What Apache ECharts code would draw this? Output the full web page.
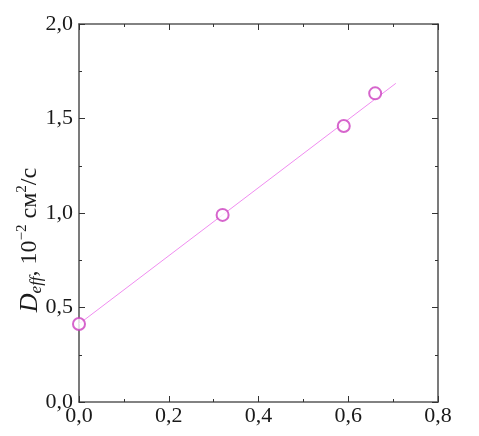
<!DOCTYPE html>
<html><head><meta charset="utf-8">
<script src="https://cdn.jsdelivr.net/npm/echarts@6/dist/echarts.min.js"></script>
<style>html,body{margin:0;padding:0;background:#fff}#c{width:479px;height:436px}</style>
</head><body><div id="c"></div>
<script>
const xValues = [0.0, 0.32, 0.59, 0.66];
const yValues = [0.413, 0.99, 1.46, 1.633];
const fitX = [0.0, 0.706];
const fitY = [0.413, 1.686];
const xTicks = [0, 0.2, 0.4, 0.6, 0.8];
const yTicks = [0, 0.5, 1.0, 1.5, 2.0];

const fmt = v => v.toFixed(1).replace('.', ',');
const axisCol = '#5a5a5a';
const FONT = 'Liberation Serif';
const chart = echarts.init(document.getElementById('c'));
const common = {
  axisLine: {show: true, onZero: false, lineStyle: {color: axisCol, width: 1.6}},
  axisTick: {show: true, inside: true, length: 6, lineStyle: {color: '#333', width: 1}},
  minorTick: {show: true, splitNumber: 2, length: 3, lineStyle: {color: '#333', width: 1}},
  splitLine: {show: false}
};
chart.setOption({
  animation: false,
  grid: {left: 79, top: 24, right: 41, bottom: 34},
  xAxis: [
    Object.assign({type: 'value', min: xTicks[0], max: xTicks[xTicks.length-1], interval: 0.2, position: 'bottom',
      axisLabel: {formatter: fmt, fontFamily: FONT, fontSize: 22, color: '#1a1a1a', margin: 3}}, common),
    Object.assign({type: 'value', min: 0, max: 0.8, interval: 0.2, position: 'top', axisLabel: {show: false}}, common)
  ],
  yAxis: [
    Object.assign({type: 'value', min: yTicks[0], max: yTicks[yTicks.length-1], interval: 0.5, position: 'left',
      axisLabel: {formatter: fmt, fontFamily: FONT, fontSize: 22, color: '#1a1a1a', margin: 6}}, common),
    Object.assign({type: 'value', min: 0, max: 2, interval: 0.5, position: 'right', axisLabel: {show: false}}, common)
  ],
  series: [
    {type: 'line', data: fitX.map((x, i) => [x, fitY[i]]), symbol: 'none',
      lineStyle: {color: '#f08cf0', width: 1}, silent: true, z: 2},
    {type: 'scatter', data: xValues.map((x, i) => [x, yValues[i]]), symbol: 'emptyCircle', symbolSize: 12,
      itemStyle: {color: '#cc3fbf', borderColor: '#cc3fbf', borderWidth: 1}, z: 3}
  ],
  graphic: [{
    type: 'text', x: 30, y: 240, rotation: Math.PI / 2,
    style: {
      text: '{i|D}{sub|eff}{n|, 10}{sup|−2}{n| см}{sup|2}{n|/с}',
      align: 'center', verticalAlign: 'middle',
      rich: {
        i: {fontFamily: FONT, fontStyle: 'italic', fontSize: 26, fill: '#1a1a1a', lineHeight: 30, verticalAlign: 'middle'},
        sub: {fontFamily: FONT, fontStyle: 'italic', fontSize: 17, fill: '#1a1a1a', lineHeight: 30, verticalAlign: 'bottom'},
        n: {fontFamily: FONT, fontSize: 24, fill: '#1a1a1a', lineHeight: 30, verticalAlign: 'middle'},
        sup: {fontFamily: FONT, fontSize: 15, fill: '#1a1a1a', lineHeight: 30, verticalAlign: 'top'}
      }
    }
  }]
});
</script></body></html>
